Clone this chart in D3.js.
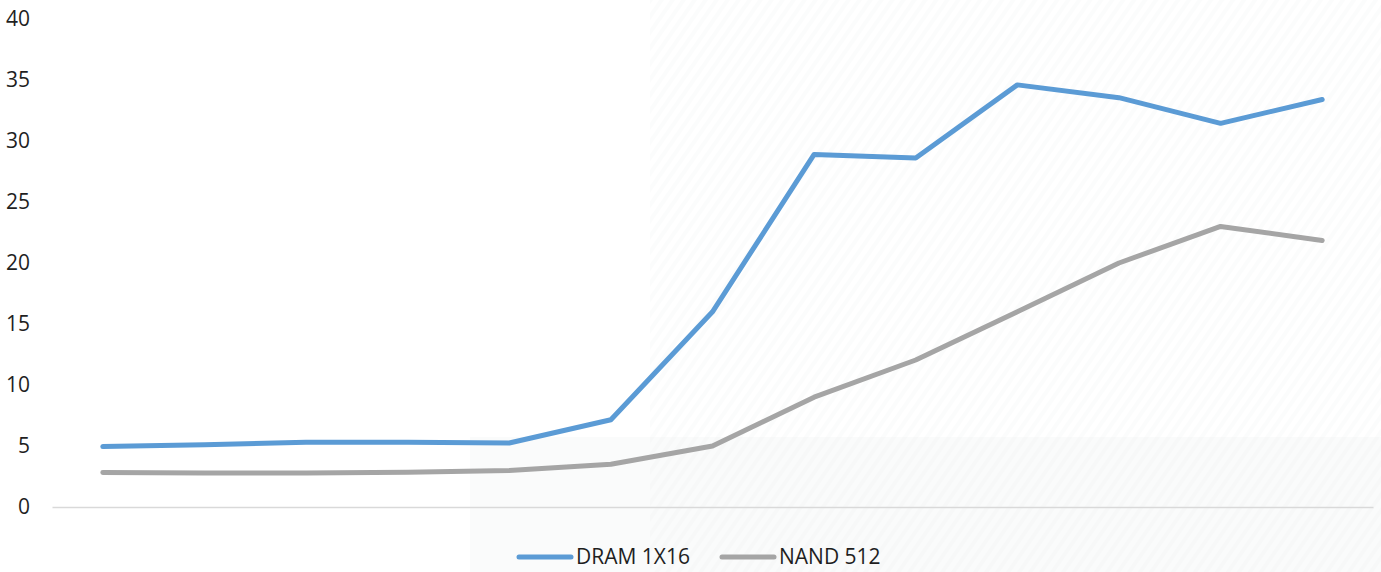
<!DOCTYPE html>
<html>
<head>
<meta charset="utf-8">
<script src="https://cdn.jsdelivr.net/npm/d3@7/dist/d3.min.js"></script>
<style>
  html, body { margin: 0; padding: 0; background: #fff; }
  svg { display: block; font-family: "Open Sans", "Noto Sans", sans-serif; }
</style>
</head>
<body>
<script>
"use strict";
(function(){
    // periods (no labels shown on the original chart)
    const periods = ["P1", "P2", "P3", "P4", "P5", "P6", "P7", "P8", "P9", "P10", "P11", "P12", "P13"];
    const dramValues = [4.95, 5.1, 5.3, 5.3, 5.25, 7.15, 16.0, 28.9, 28.6, 34.6, 33.55, 31.45, 33.4];
    const nandValues = [2.82, 2.78, 2.78, 2.85, 3.0, 3.5, 5.0, 9.0, 12.05, 16.0, 20.0, 23.0, 21.85];
    const seriesNames = ["DRAM 1X16", "NAND 512"];
    const yTicks = [0, 5, 10, 15, 20, 25, 30, 35, 40];

    const measurements = {
        width: 1381,
        height: 572,
        left: 52,
        right: 1373,
        top: 19,
        bottom: 507
    }

    const colors = {
        "DRAM 1X16": "#5B9BD5",
        "NAND 512": "#A5A5A5"
    }

    const svg = d3.select("body").append("svg")
        .attr("width", measurements.width)
        .attr("height", measurements.height);

    // faint diagonal texture in the background
    const defs = svg.append("defs");
    const pat = defs.append("pattern")
        .attr("id", "stripes")
        .attr("width", 9)
        .attr("height", 9)
        .attr("patternUnits", "userSpaceOnUse")
        .attr("patternTransform", "rotate(35)");
    pat.append("rect").attr("width", 4).attr("height", 9).attr("fill", "#eceeee");

    svg.append("rect")
        .attr("x", 470).attr("y", 437)
        .attr("width", measurements.width - 470).attr("height", measurements.height - 437)
        .attr("fill", "#fafbfb");
    svg.append("rect")
        .attr("x", 650).attr("y", 0)
        .attr("width", measurements.width - 650).attr("height", measurements.height)
        .attr("fill", "url(#stripes)")
        .attr("opacity", 0.2);

    const x = d3.scaleBand()
        .domain(periods)
        .range([measurements.left, measurements.right])
        .padding(0);

    const y = d3.scaleLinear()
        .domain([0, 40])
        .range([measurements.bottom, measurements.top]);

    // y axis labels only
    const yAxis = d3.axisLeft(y)
        .tickValues(yTicks)
        .tickSize(0)
        .tickPadding(0);
    const gy = svg.append("g")
        .attr("transform", "translate(30,0)")
        .call(yAxis);
    gy.select(".domain").remove();
    gy.selectAll("text")
        .attr("fill", "#1f1f1f")
        .style("font-size", "21px")
        .style("font-family", "'Open Sans', sans-serif");

    // category axis line
    const xAxis = d3.axisBottom(x).tickSize(0).tickFormat("");
    const gx = svg.append("g")
        .attr("transform", "translate(0," + measurements.bottom + ")")
        .call(xAxis);
    gx.select(".domain")
        .attr("stroke", "#d9d9d9")
        .attr("stroke-width", 1.5);

    const line = d3.line()
        .x((d, i) => x(periods[i]) + x.bandwidth() / 2)
        .y(d => y(d));

    const series = [
        { name: seriesNames[0], values: dramValues },
        { name: seriesNames[1], values: nandValues }
    ];

    svg.selectAll(".series")
        .data(series.slice().reverse())
        .enter()
        .append("path")
        .attr("class", "series")
        .attr("d", d => line(d.values))
        .attr("fill", "none")
        .attr("stroke", d => colors[d.name])
        .attr("stroke-width", 5)
        .attr("stroke-linecap", "round")
        .attr("stroke-linejoin", "round");

    // legend
    const legendPos = [517, 720];
    const legend = svg.selectAll(".legend")
        .data(series)
        .enter()
        .append("g")
        .attr("class", "legend")
        .attr("transform", (d, i) => "translate(" + legendPos[i] + ",557)");
    legend.append("line")
        .attr("x1", 2).attr("x2", 54)
        .attr("stroke", d => colors[d.name])
        .attr("stroke-width", 5)
        .attr("stroke-linecap", "round");
    legend.append("text")
        .attr("x", 59)
        .attr("dy", "0.35em")
        .attr("fill", "#1f1f1f")
        .style("font-size", "21px")
        .text(d => d.name);
})()
</script>
</body>
</html>
